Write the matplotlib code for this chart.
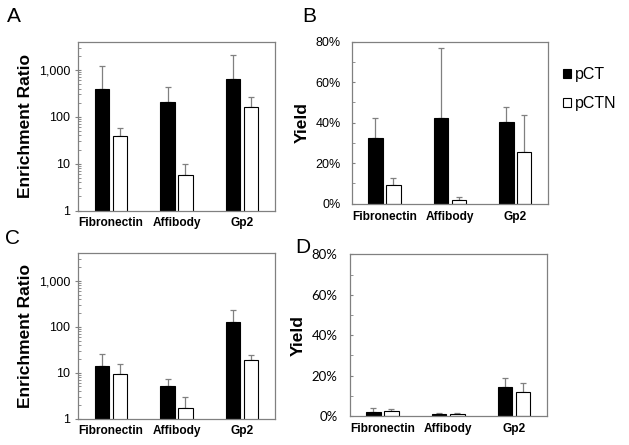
import numpy as np
import matplotlib
matplotlib.use("Agg")
import matplotlib.pyplot as plt
from matplotlib.patches import Patch
from matplotlib.ticker import FixedLocator, FuncFormatter, LogLocator, NullFormatter, MultipleLocator

plt.rcParams['font.family'] = ['Liberation Sans', 'DejaVu Sans']

categories = ["Fibronectin", "Affibody", "Gp2"]
series = ["pCT", "pCTN"]

# panel A - enrichment ratio
ratio_a_pct = [400, 202, 654]
ratio_a_pct_err = [817, 233, 1431]
ratio_a_pctn = [39, 5.8, 163]
ratio_a_pctn_err = [19, 3.9, 99]

# panel B - yield
yield_b_pct = [0.326, 0.423, 0.402]
yield_b_pct_err = [0.095, 0.344, 0.077]
yield_b_pctn = [0.091, 0.016, 0.253]
yield_b_pctn_err = [0.037, 0.015, 0.183]

# panel C - enrichment ratio
ratio_c_pct = [13.7, 5.1, 124]
ratio_c_pct_err = [12.3, 2.3, 104]
ratio_c_pctn = [9.4, 1.7, 18.4]
ratio_c_pctn_err = [6.4, 1.2, 6.3]

# panel D - yield
yield_d_pct = [0.018, 0.008, 0.142]
yield_d_pct_err = [0.020, 0.005, 0.044]
yield_d_pctn = [0.023, 0.012, 0.117]
yield_d_pctn_err = [0.010, 0.005, 0.046]

W, H = 629, 445
fig = plt.figure(figsize=(W / 100, H / 100), dpi=100)


def make_ax(left, top, right, bottom):
    return fig.add_axes([left / W, 1 - bottom / H, (right - left) / W, (bottom - top) / H])


ax_a = make_ax(78, 41.7, 275, 210.5)
ax_b = make_ax(351.7, 41.7, 548, 203.7)
ax_c = make_ax(78, 253.3, 275, 418.5)
ax_d = make_ax(349.5, 254.3, 547, 416)

x = np.arange(len(categories))
width = 0.22
off = 0.137
grey = "#808080"


def draw_bars(ax, pct, pct_err, pctn, pctn_err):
    ax.bar(x - off, pct, width, color="black", edgecolor="black", linewidth=0.8, zorder=2)
    ax.bar(x + off, pctn, width, color="white", edgecolor="black", linewidth=0.8, zorder=2)
    ax.errorbar(x - off, pct, yerr=[np.zeros(3), pct_err], fmt="none", ecolor=grey,
                elinewidth=0.9, capsize=2, capthick=0.9, zorder=1)
    ax.errorbar(x + off, pctn, yerr=[np.zeros(3), pctn_err], fmt="none", ecolor=grey,
                elinewidth=0.9, capsize=2, capthick=0.9, zorder=1)
    ax.set_xlim(-0.5, 2.5)
    ax.set_xticks(x)
    ax.set_xticklabels(categories, fontsize=8.6, fontweight="bold")
    ax.tick_params(axis="x", length=0, pad=5)
    for s in ax.spines.values():
        s.set_color(grey)
        s.set_linewidth(0.9)


def log_style(ax):
    ax.set_yscale("log")
    ax.set_ylim(1, 4000)
    ax.yaxis.set_major_locator(FixedLocator([1, 10, 100, 1000]))
    ax.yaxis.set_major_formatter(FuncFormatter(lambda v, p: f"{v:,.0f}"))
    ax.yaxis.set_minor_locator(LogLocator(base=10, subs=np.arange(2, 10)))
    ax.yaxis.set_minor_formatter(NullFormatter())
    ax.tick_params(axis="y", which="major", direction="inout", length=5, color=grey,
                   labelsize=9, pad=3)
    ax.tick_params(axis="y", which="minor", direction="in", length=2.5, color=grey)
    ax.set_ylabel("Enrichment Ratio", fontsize=12.5, fontweight="bold", labelpad=4)


def pct_style(ax, font, size, pad):
    ax.set_ylim(0, 0.8)
    ax.yaxis.set_major_locator(MultipleLocator(0.2))
    ax.yaxis.set_minor_locator(MultipleLocator(0.1))
    ax.yaxis.set_major_formatter(FuncFormatter(lambda v, p: f"{v * 100:.0f}%"))
    ax.tick_params(axis="y", which="major", direction="in", length=2.5, color=grey,
                   labelsize=size, pad=pad)
    ax.tick_params(axis="y", which="minor", direction="in", length=2.5, color=grey)
    for lab in ax.get_yticklabels():
        lab.set_family(font)
    ax.set_ylabel("Yield", fontsize=12.5, fontweight="bold", labelpad=4)


draw_bars(ax_a, ratio_a_pct, ratio_a_pct_err, ratio_a_pctn, ratio_a_pctn_err)
log_style(ax_a)
draw_bars(ax_b, yield_b_pct, yield_b_pct_err, yield_b_pctn, yield_b_pctn_err)
pct_style(ax_b, ["Liberation Sans"], 9, 8)
draw_bars(ax_c, ratio_c_pct, ratio_c_pct_err, ratio_c_pctn, ratio_c_pctn_err)
log_style(ax_c)
draw_bars(ax_d, yield_d_pct, yield_d_pct_err, yield_d_pctn, yield_d_pctn_err)
pct_style(ax_d, ["Lato", "Liberation Sans"], 9.5, 8.5)

# panel letters
for letter, px, py in [("A", 14, 16), ("B", 309, 16), ("C", 13, 239), ("D", 303, 248)]:
    fig.text(px / W, 1 - py / H, letter, fontsize=15, ha="center", va="center")

handles = [Patch(facecolor="black", edgecolor="black", linewidth=0.8),
           Patch(facecolor="white", edgecolor="black", linewidth=0.8)]
fig.legend(handles, series, loc="upper left", bbox_to_anchor=(555 / W, 1 - 59 / H),
           frameon=False, fontsize=11.5, handlelength=0.5, handleheight=0.5,
           handletextpad=0.25, labelspacing=0.9, borderpad=0)

fig.savefig("out.png", dpi=100)
